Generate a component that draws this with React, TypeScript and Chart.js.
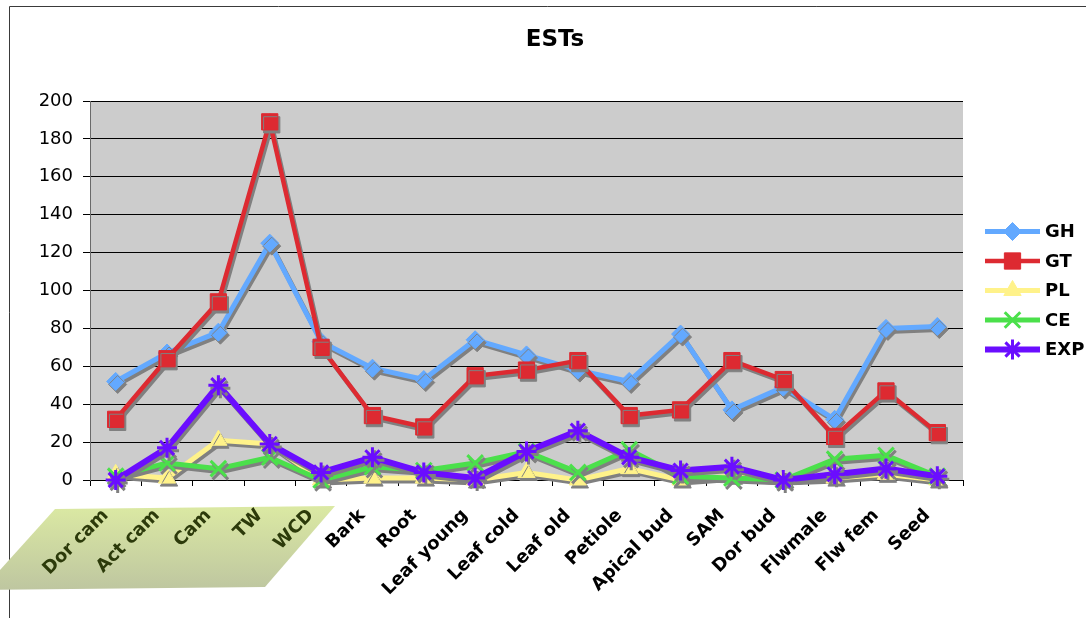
import React, { useEffect, useRef } from 'react';
import { Chart, registerables } from 'chart.js';
import { drawPoint } from 'chart.js/helpers';

Chart.register(...registerables);

const categories = ['Dor cam', 'Act cam', 'Cam', 'TW', 'WCD', 'Bark', 'Root', 'Leaf young', 'Leaf cold', 'Leaf old', 'Petiole', 'Apical bud', 'SAM', 'Dor bud', 'Flwmale', 'Flw fem', 'Seed'];
const ghValues = [52, 67, 78, 125, 73, 59, 53, 74, 66, 58, 52, 77, 37, 49, 32, 80, 81];
const gtValues = [32, 64, 94, 189, 70, 34, 28, 55, 58, 63, 34, 37, 63, 53, 23, 47, 25];
const plValues = [3, 1, 21, 19, 0, 1, 1, 0, 4, 0, 6, 0, 2, 0, 1, 3, 0];
const ceValues = [2, 9, 6, 12, 0, 7, 5, 9, 15, 4, 16, 2, 1, 0, 11, 13, 2];
const expValues = [0, 17, 50, 19, 4, 12, 4, 1, 15, 26, 12, 5, 7, 0, 3, 6, 2];
const seriesNames = ['GH', 'GT', 'PL', 'CE', 'EXP'];
const titleText = 'ESTs';
const yMin = 0;
const yMax = 200;
const yStep = 20;

const FONT = '"DejaVu Sans", Verdana, sans-serif';

const decorPlugin = {
  id: 'decor',
  beforeDraw(chart: any) {
    const { ctx, chartArea: a } = chart;
    ctx.save();
    ctx.fillStyle = '#ffffff';
    ctx.fillRect(0, 0, chart.width, chart.height);
    // outer frame
    ctx.strokeStyle = '#3a3a3a';
    ctx.lineWidth = 1;
    ctx.beginPath();
    ctx.moveTo(9.5, chart.height);
    ctx.lineTo(9.5, 6.5);
    ctx.lineTo(chart.width, 6.5);
    ctx.stroke();
    // plot background
    ctx.fillStyle = '#cccccc';
    ctx.fillRect(a.left, a.top, a.right - a.left, a.bottom - a.top);
    // green parallelogram behind the first labels
    const g = ctx.createLinearGradient(0, 506, 0, 590);
    g.addColorStop(0, '#dbe9a3');
    g.addColorStop(1, '#bec6a0');
    ctx.fillStyle = g;
    ctx.beginPath();
    ctx.moveTo(55, 509);
    ctx.lineTo(335, 506);
    ctx.lineTo(265, 587);
    ctx.lineTo(-18, 590);
    ctx.closePath();
    ctx.fill();
    ctx.restore();
  },
  beforeDatasetDraw(chart: any) {
    const ctx = chart.ctx;
    ctx.save();
    ctx.shadowColor = 'rgba(128,128,128,1)';
    ctx.shadowOffsetX = 2;
    ctx.shadowOffsetY = 3;
    ctx.shadowBlur = 0;
  },
  afterDatasetDraw(chart: any) {
    chart.ctx.restore();
  },
  afterDraw(chart: any) {
    const ctx = chart.ctx;
    ctx.save();
    // title
    ctx.fillStyle = '#000';
    ctx.font = `bold 23px ${FONT}`;
    ctx.textAlign = 'center';
    ctx.textBaseline = 'alphabetic';
    ctx.fillText(titleText, 555, 46);
    // legend
    chart.data.datasets.forEach((ds: any, i: number) => {
      const y = 231.5 + i * 29.5;
      ctx.strokeStyle = ds.borderColor;
      ctx.lineWidth = ds.borderWidth;
      ctx.beginPath();
      ctx.moveTo(985, y);
      ctx.lineTo(1040, y);
      ctx.stroke();
      ctx.fillStyle = ds.pointBackgroundColor;
      ctx.strokeStyle = ds.pointBorderColor;
      ctx.lineWidth = ds.pointBorderWidth;
      drawPoint(ctx, { pointStyle: ds.pointStyle, radius: ds.pointRadius, borderWidth: ds.pointBorderWidth, rotation: 0 }, 1012.5, y);
      ctx.fillStyle = '#000';
      ctx.font = `bold 18px ${FONT}`;
      ctx.textAlign = 'left';
      ctx.textBaseline = 'middle';
      ctx.fillText(ds.label, 1045, y + 1);
    });
    ctx.restore();
  },
};

function makeDataset(label: string, data: number[], color: string, width: number, style: string, radius: number, pbw: number, order: number) {
  return {
    label,
    data,
    borderColor: color,
    backgroundColor: color,
    borderWidth: width,
    pointStyle: style,
    pointRadius: radius,
    pointBackgroundColor: color,
    pointBorderColor: color,
    pointBorderWidth: pbw,
    tension: 0,
    clip: false,
    order,
  };
}

export default function App() {
  const ref = useRef<HTMLCanvasElement | null>(null);
  useEffect(() => {
    document.body.style.margin = '0';
    const canvas = ref.current!;
    const chart = new Chart(canvas, {
      type: 'line',
      data: {
        labels: categories,
        datasets: [
          makeDataset(seriesNames[0], ghValues, '#63a9ff', 5, 'rectRot', 9, 1, 5),
          makeDataset(seriesNames[1], gtValues, '#dd2a31', 4.5, 'rect', 11.5, 1, 4),
          makeDataset(seriesNames[2], plValues, '#fff28a', 5, 'triangle', 10, 1, 3),
          makeDataset(seriesNames[3], ceValues, '#4be04b', 5, 'crossRot', 11, 3, 2),
          makeDataset(seriesNames[4], expValues, '#6a0dff', 6, 'star', 10, 3, 1),
        ] as any,
      },
      options: {
        animation: false,
        responsive: false,
        devicePixelRatio: 1,
        layout: { padding: { top: 101, right: 123, left: 0, bottom: 0 } },
        plugins: {
          legend: { display: false },
          title: { display: false },
          tooltip: { enabled: false },
        },
        scales: {
          x: {
            offset: true,
            grid: { offset: true, drawOnChartArea: false, drawTicks: true, tickLength: 6, color: '#000' },
            border: { display: true, color: '#000', width: 1 },
            ticks: {
              autoSkip: false,
              maxRotation: 45,
              minRotation: 45,
              padding: 19,
              labelOffset: -10,
              font: { family: FONT, size: 18, weight: 'bold' },
              color: (c: any) => (c.index < 5 ? '#2c3a0a' : '#000000'),
            },
            afterFit: (s: any) => { s.height = 138; },
          },
          y: {
            min: yMin,
            max: yMax,
            ticks: { stepSize: yStep, padding: 10, color: '#000', font: { family: FONT, size: 18 } },
            grid: { color: '#000', lineWidth: 1, tickLength: 7, drawTicks: true },
            border: { display: true, color: '#6a6a6a', width: 1 },
            afterFit: (s: any) => { s.width = 90; },
          },
        },
      } as any,
      plugins: [decorPlugin],
    });
    return () => chart.destroy();
  }, []);
  return <canvas ref={ref} width={1086} height={618} style={{ display: 'block', width: 1086, height: 618 }} />;
}
